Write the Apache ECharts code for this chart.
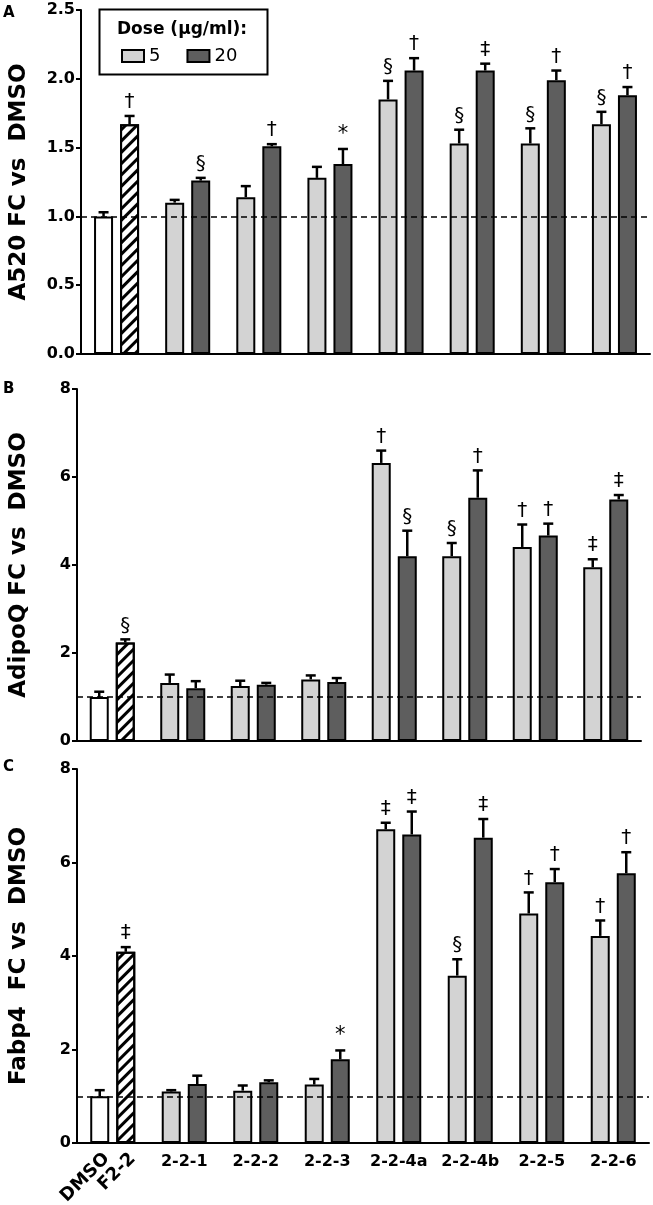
<!DOCTYPE html>
<html>
<head>
<meta charset="utf-8">
<script src="https://cdn.jsdelivr.net/npm/echarts@6/dist/echarts.min.js"></script>
<style>html,body{margin:0;padding:0;background:#fff}#c{width:653px;height:1205px}</style>
</head>
<body>
<div id="c"></div>
<script>
// ---- data ----
const categories = ['ctrl','2-2-1','2-2-2','2-2-3','2-2-4a','2-2-4b','2-2-5','2-2-6'];
const xTickLabels = ['','2-2-1','2-2-2','2-2-3','2-2-4a','2-2-4b','2-2-5','2-2-6'];
const ctrlLabels = ['DMSO','F2-2'];
const doseNames = ['5','20'];

// first item of "5" arrays = DMSO, first item of "20" arrays = F2-2
const a520_5      = [1.00, 1.10, 1.14, 1.28, 1.85, 1.53, 1.53, 1.67];
const a520_5_err  = [0.03, 0.02, 0.08, 0.08, 0.135, 0.10, 0.11, 0.09];
const a520_5_sig  = ['', '', '', '', '§', '§', '§', '§'];
const a520_20     = [1.67, 1.26, 1.51, 1.38, 2.06, 2.06, 1.99, 1.88];
const a520_20_err = [0.06, 0.02, 0.015, 0.11, 0.09, 0.05, 0.07, 0.06];
const a520_20_sig = ['†', '§', '†', '*', '†', '‡', '†', '†'];

const adipo_5      = [1.00, 1.32, 1.25, 1.40, 6.32, 4.20, 4.41, 3.95];
const adipo_5_err  = [0.12, 0.19, 0.12, 0.09, 0.28, 0.30, 0.51, 0.18];
const adipo_5_sig  = ['', '', '', '', '†', '§', '†', '‡'];
const adipo_20     = [2.24, 1.20, 1.28, 1.34, 4.20, 5.53, 4.67, 5.49];
const adipo_20_err = [0.07, 0.16, 0.04, 0.09, 0.58, 0.62, 0.27, 0.10];
const adipo_20_sig = ['§', '', '', '', '§', '†', '†', '‡'];

const fabp4_5      = [1.00, 1.10, 1.12, 1.25, 6.71, 3.58, 4.91, 4.43];
const fabp4_5_err  = [0.13, 0.03, 0.11, 0.12, 0.14, 0.35, 0.45, 0.33];
const fabp4_5_sig  = ['', '', '', '', '‡', '§', '†', '†'];
const fabp4_20     = [4.09, 1.26, 1.30, 1.79, 6.60, 6.53, 5.58, 5.77];
const fabp4_20_err = [0.10, 0.18, 0.04, 0.19, 0.49, 0.40, 0.28, 0.45];
const fabp4_20_sig = ['‡', '', '', '*', '‡', '‡', '†', '†'];

const yNames = ['A520 FC vs  DMSO', 'AdipoQ FC vs  DMSO', 'Fabp4  FC vs  DMSO'];
const yMax = [2.5, 8, 8];
const yInterval = [0.5, 2, 2];
const panelLetters = ['A', 'B', 'C'];
const refLine = 1;

// ---- style ----
const FONT = 'DejaVu Sans';
const LIGHT = '#d3d3d3', DARK = '#5e5e5e';
const BAR_W = 19, BAR_GAP = '37%';
const grids = [
  {left: 75, width: 575, top: 10, height: 344},
  {left: 70, width: 571, top: 389, height: 352},
  {left: 74, width: 575, top: 769, height: 374}
];
const hatch = {symbol: 'rect', symbolSize: 1, color: '#000', dashArrayX: [1, 0], dashArrayY: [2.5, 4.5], rotation: -Math.PI / 4};

const panels = [
  {v5: a520_5, e5: a520_5_err, s5: a520_5_sig, v20: a520_20, e20: a520_20_err, s20: a520_20_sig},
  {v5: adipo_5, e5: adipo_5_err, s5: adipo_5_sig, v20: adipo_20, e20: adipo_20_err, s20: adipo_20_sig},
  {v5: fabp4_5, e5: fabp4_5_err, s5: fabp4_5_sig, v20: fabp4_20, e20: fabp4_20_err, s20: fabp4_20_sig}
];

function errSeries(p, vals, errs, sigs, idx) {
  return {
    type: 'custom', xAxisIndex: p, yAxisIndex: p, z: 5, clip: false, silent: true,
    data: vals.map((v, i) => [i, v, errs[i], idx]),
    encode: {x: 0, y: 1},
    renderItem: function (params, api) {
      const layout = api.barLayout({barWidth: BAR_W, barGap: BAR_GAP, count: 2});
      const c = api.value(0), v = api.value(1), e = api.value(2), k = api.value(3);
      const base = api.coord([c, v]);
      const top = api.coord([c, v + e]);
      const x = base[0] + layout[k].offsetCenter;
      const sig = sigs[params.dataIndex];
      const children = [
        {type: 'line', shape: {x1: x, y1: base[1], x2: x, y2: top[1]}, style: {stroke: '#000', lineWidth: 2.5}},
        {type: 'line', shape: {x1: x - 5, y1: top[1], x2: x + 5, y2: top[1]}, style: {stroke: '#000', lineWidth: 2.5}}
      ];
      if (sig) {
        children.push({type: 'text', x: x, y: top[1] - 4,
          style: {text: sig, fill: '#000', font: (sig === '*' ? '21px ' : '20px ') + '"' + FONT + '"', align: 'center', verticalAlign: 'bottom'}});
      }
      return {type: 'group', children: children};
    }
  };
}

const xAxes = [], yAxes = [], series = [];
panels.forEach((pd, p) => {
  xAxes.push({
    type: 'category', gridIndex: p, data: (p === 2 ? xTickLabels : categories.map(() => '')),
    axisLine: {lineStyle: {color: '#000', width: 2}}, axisTick: {show: false},
    axisLabel: {show: p === 2, color: '#000', fontFamily: FONT, fontWeight: 'bold', fontSize: 16, margin: 11, interval: 0}
  });
  yAxes.push({
    type: 'value', gridIndex: p, min: 0, max: yMax[p], interval: yInterval[p],
    name: yNames[p], nameLocation: 'middle', nameGap: p === 0 ? 50 : 46,
    nameTextStyle: {color: '#000', fontFamily: FONT, fontWeight: 'bold', fontSize: 23},
    axisLine: {show: true, lineStyle: {color: '#000', width: 2}},
    axisTick: {show: true, length: 5, lineStyle: {color: '#000', width: 2}},
    splitLine: {show: false},
    axisLabel: {color: '#000', fontFamily: FONT, fontWeight: 'bold', fontSize: 16, margin: 6,
      formatter: p === 0 ? (v => v.toFixed(1)) : (v => String(v))}
  });
  // reference line (behind bars)
  series.push({
    type: 'line', xAxisIndex: p, yAxisIndex: p, data: [], z: 1, silent: true,
    markLine: {silent: true, symbol: 'none', label: {show: false},
      lineStyle: {type: [6, 4], color: '#000', width: 1.5}, data: [{yAxis: refLine}]}
  });
  series.push({
    name: doseNames[0], type: 'bar', xAxisIndex: p, yAxisIndex: p, z: 3,
    barWidth: BAR_W, barGap: BAR_GAP,
    itemStyle: {color: LIGHT, borderColor: '#000', borderWidth: 2},
    data: pd.v5.map((v, i) => i === 0 ? {value: v, itemStyle: {color: '#fff'}} : v)
  });
  series.push({
    name: doseNames[1], type: 'bar', xAxisIndex: p, yAxisIndex: p, z: 3,
    barWidth: BAR_W, barGap: BAR_GAP,
    itemStyle: {color: DARK, borderColor: '#000', borderWidth: 2},
    data: pd.v20.map((v, i) => i === 0 ? {value: v, itemStyle: {color: '#fff', decal: hatch}} : v)
  });
  series.push(errSeries(p, pd.v5, pd.e5, pd.s5, 0));
  series.push(errSeries(p, pd.v20, pd.e20, pd.s20, 1));
});

// rotated control labels under panel C
series.push({
  type: 'custom', xAxisIndex: 2, yAxisIndex: 2, clip: false, silent: true, z: 5,
  data: ctrlLabels.map((t, i) => [0, 0, i]),
  encode: {x: 0, y: 1},
  renderItem: function (params, api) {
    const layout = api.barLayout({barWidth: BAR_W, barGap: BAR_GAP, count: 2});
    const pt = api.coord([api.value(0), 0]);
    const k = api.value(2);
    return {type: 'text', x: pt[0] + layout[k].offsetCenter + 7, y: pt[1] + 13, rotation: Math.PI / 4,
      style: {text: ctrlLabels[params.dataIndex], fill: '#000', font: 'bold 18px "' + FONT + '"', align: 'right', verticalAlign: 'middle'}};
  }
});

const option = {
  animation: false,
  backgroundColor: '#fff',
  grid: grids,
  xAxis: xAxes,
  yAxis: yAxes,
  legend: {
    data: doseNames, left: 121, top: 47, padding: 0, itemWidth: 22, itemHeight: 12, itemGap: 26,
    icon: 'rect', selectedMode: false,
    textStyle: {color: '#000', fontFamily: FONT, fontSize: 18}
  },
  graphic: [
    {type: 'rect', left: 97, top: 7, shape: {width: 168, height: 65}, style: {fill: 'none', stroke: '#000', lineWidth: 2}},
    {type: 'text', left: 117, top: 21, style: {text: 'Dose (µg/ml):', fill: '#000', font: 'bold 17px "' + FONT + '"'}},
    {type: 'text', left: 3, top: 6, style: {text: panelLetters[0], fill: '#000', font: 'bold 15px "' + FONT + '"'}},
    {type: 'text', left: 3, top: 382, style: {text: panelLetters[1], fill: '#000', font: 'bold 15px "' + FONT + '"'}},
    {type: 'text', left: 3, top: 760, style: {text: panelLetters[2], fill: '#000', font: 'bold 15px "' + FONT + '"'}}
  ],
  series: series
};

const chart = echarts.init(document.getElementById('c'), null, {renderer: 'canvas'});
chart.setOption(option);
</script>
</body>
</html>
